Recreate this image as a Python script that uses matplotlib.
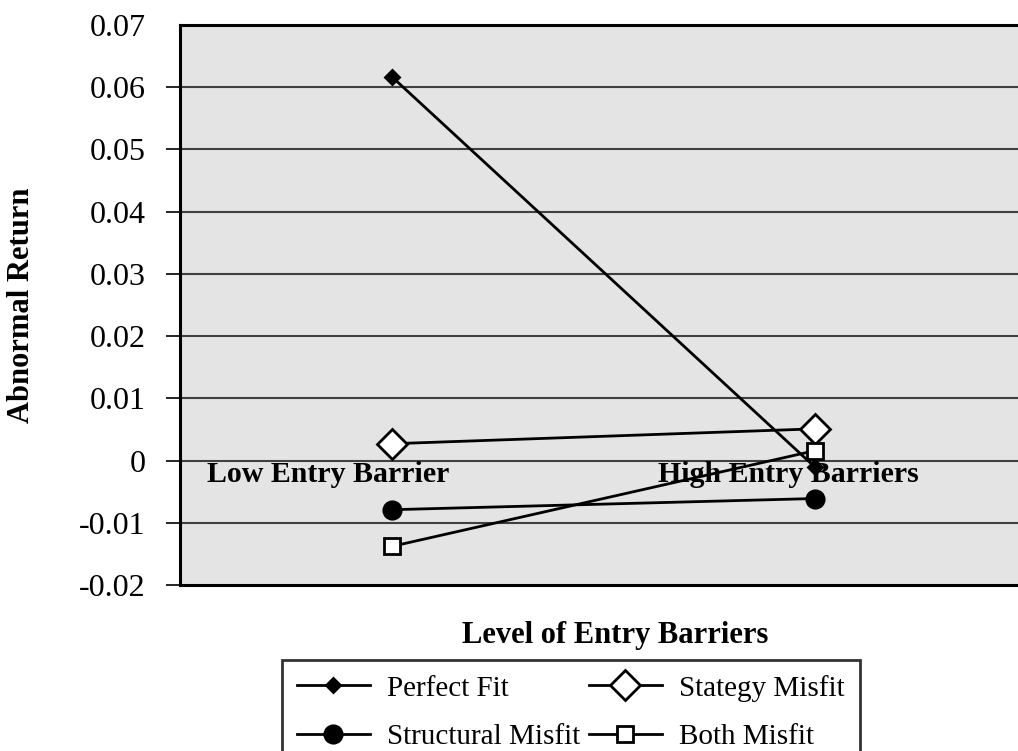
import matplotlib
matplotlib.use("Agg")
import matplotlib.pyplot as plt
import numpy as np

plt.rcParams["font.family"] = ["Liberation Serif", "DejaVu Serif"]

# data
categories = ["Low Entry Barrier", "High Entry Barriers"]
perfect_fit = [0.0617, -0.0011]
strategy_misfit = [0.0027, 0.0051]
structural_misfit = [-0.0079, -0.0061]
both_misfit = [-0.0138, 0.0016]
y_ticks = [-0.02, -0.01, 0, 0.01, 0.02, 0.03, 0.04, 0.05, 0.06, 0.07]
y_tick_labels = ["-0.02", "-0.01", "0", "0.01", "0.02", "0.03", "0.04", "0.05", "0.06", "0.07"]

W, H = 1018, 751
fig = plt.figure(figsize=(W / 100, H / 100), dpi=100)
# plot area runs past the right edge of the picture, as in the reference
ax = fig.add_axes([180 / W, 1 - 585 / H, 847 / W, 560 / H])
ax.set_facecolor("#e4e4e4")

x = np.arange(len(categories))
line_kw = dict(color="black", lw=2, markeredgecolor="black", markeredgewidth=2)
h_pf, = ax.plot(x, perfect_fit, marker="D", ms=7, markerfacecolor="black", label="Perfect Fit", zorder=5, **line_kw)
h_sm, = ax.plot(x, strategy_misfit, marker="D", ms=15, markerfacecolor="white", label="Stategy Misfit", zorder=4, **line_kw)
h_st, = ax.plot(x, structural_misfit, marker="o", ms=12.5, markerfacecolor="black", label="Structural Misfit", zorder=4, **line_kw)
h_bm, = ax.plot(x, both_misfit, marker="s", ms=12, markerfacecolor="white", label="Both Misfit", zorder=4, **line_kw)

ax.set_xlim(-0.5, 1.5)
ax.set_ylim(-0.02, 0.07)
ax.set_yticks(y_ticks)
ax.set_yticklabels(y_tick_labels, fontsize=23)
ax.set_xticks([])
ax.tick_params(axis="y", direction="out", length=10, width=1.2, pad=15)
ax.yaxis.get_major_ticks()[-1].tick1line.set_visible(False)
for y in y_ticks[1:-1]:
    ax.axhline(y, color="#404040", lw=1.5, zorder=1)
for s in ax.spines.values():
    s.set_linewidth(2.2)
    s.set_color("black")

# category labels sit on the zero line
ax.text(-0.15, 0, categories[0], ha="center", va="top", fontsize=21.5, fontweight="bold", zorder=3)
ax.text(0.936, 0, categories[1], ha="center", va="top", fontsize=21.5, fontweight="bold", zorder=3)

fig.text(22 / W, 1 - 305 / H, "Abnormal Return", rotation=90, ha="center", va="center",
         fontsize=22, fontweight="bold")
fig.text(615 / W, 1 - 636 / H, "Level of Entry Barriers", ha="center", va="center",
         fontsize=22, fontweight="bold")

# legend fills row by row in the reference
leg = fig.legend([h_pf, h_st, h_sm, h_bm],
                 [h.get_label() for h in (h_pf, h_st, h_sm, h_bm)],
                 loc="upper left", bbox_to_anchor=(282 / W, 1 - 660 / H), ncol=2,
                 fontsize=21, frameon=True, fancybox=False, handlelength=2.5,
                 handletextpad=0.6, columnspacing=0.3, borderpad=0.5,
                 labelspacing=0.75, borderaxespad=0)
leg.get_frame().set_edgecolor("black")
leg.get_frame().set_linewidth(2)

fig.savefig("out.png", dpi=100)
